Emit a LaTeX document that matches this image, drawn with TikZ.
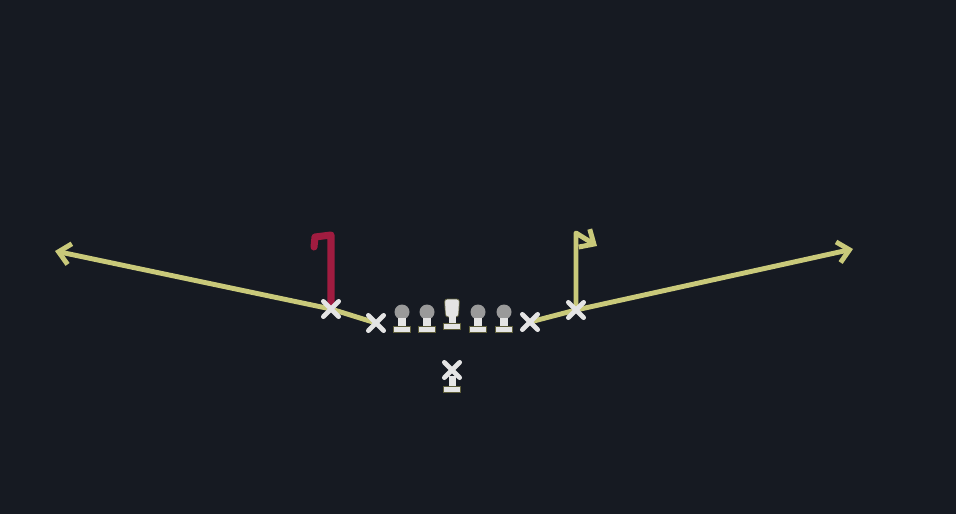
\documentclass[tikz,border=0pt]{standalone}
\usetikzlibrary{arrows.meta,shapes.misc}
\definecolor{field}{HTML}{161A22}
\definecolor{lane}{HTML}{C9C97A}
\definecolor{hot}{HTML}{A01C40}
\definecolor{chalk}{HTML}{E4E4E4}
\definecolor{helmet}{HTML}{9A9A9A}
\definecolor{rim}{HTML}{5E5E3A}
\tikzset{
  player/.style={cross out, draw=chalk, line width=2.7pt, minimum size=6pt, inner sep=0pt, line cap=round},
  yroute/.style={draw=lane, line width=2.8pt, line cap=round, line join=round},
  hotroute/.style={draw=hot, line width=4pt, line cap=round, line join=round},
  tip/.style={-{Straight Barb[length=6.5pt,width=12pt]}},
  lineman/.pic={
    \fill[helmet] (0,-20) circle[radius=7.5];
    \fill[chalk] (-4,-14) rectangle (4,-6);
    \filldraw[fill=chalk, draw=rim, line width=0.5pt] (-8.5,-6) rectangle (8.5,0);
  },
  center/.pic={
    \filldraw[fill=chalk, draw=rim, line width=0.4pt, rounded corners=1.5pt]
      (-7.5,-30) -- (7.5,-30) -- (6.5,-12) -- (-6.5,-12) -- cycle;
    \fill[chalk] (-3.5,-13) rectangle (3.5,-5);
    \filldraw[fill=chalk, draw=rim, line width=0.5pt] (-8.5,-6) rectangle (8.5,0);
  },
  passer/.pic={
    \fill[chalk] (-3.5,-16) rectangle (3.5,-5);
    \filldraw[fill=chalk, draw=rim, line width=0.5pt] (-8.5,-6) rectangle (8.5,0);
  }
}
\begin{document}
\begin{tikzpicture}[x=0.02cm, y=-0.02cm]
  \fill[field] (0,0) rectangle (956,514);
  \useasboundingbox (0,0) rectangle (956,514);
  % spots
  \coordinate (wl) at (331,309);
  \coordinate (sl) at (376,323);
  \coordinate (sr) at (530,322);
  \coordinate (wr) at (576,310);
  \coordinate (goL) at (55,251);
  \coordinate (goR) at (853,249);
  \coordinate (hookTop) at (331,235);
  \coordinate (hookEnd) at (314,247);
  \coordinate (flagTop) at (576,233);
  \coordinate (flagEnd) at (597,246);
  % routes
  \draw[yroute, tip] (sl) -- (wl) -- (goL);
  \draw[yroute] (sr) -- (wr);
  \draw[yroute, tip] (wr) -- (goR);
  \draw[yroute, tip] (wr) -- (flagTop) -- (flagEnd);
  \draw[hotroute] (wl) -- (hookTop) -- (315,237) -- (hookEnd);
  % line
  \pic at (402,332) {lineman};
  \pic at (427,332) {lineman};
  \pic at (452,329) {center};
  \pic at (478,332) {lineman};
  \pic at (504,332) {lineman};
  \pic at (452,392) {passer};
  % skill players
  \node[player] (nwl) at (wl) {};
  \node[player] (nsl) at (sl) {};
  \node[player] (nsr) at (sr) {};
  \node[player] (nwr) at (wr) {};
  \node[player] (qb) at (452,370) {};
\end{tikzpicture}
\end{document}
